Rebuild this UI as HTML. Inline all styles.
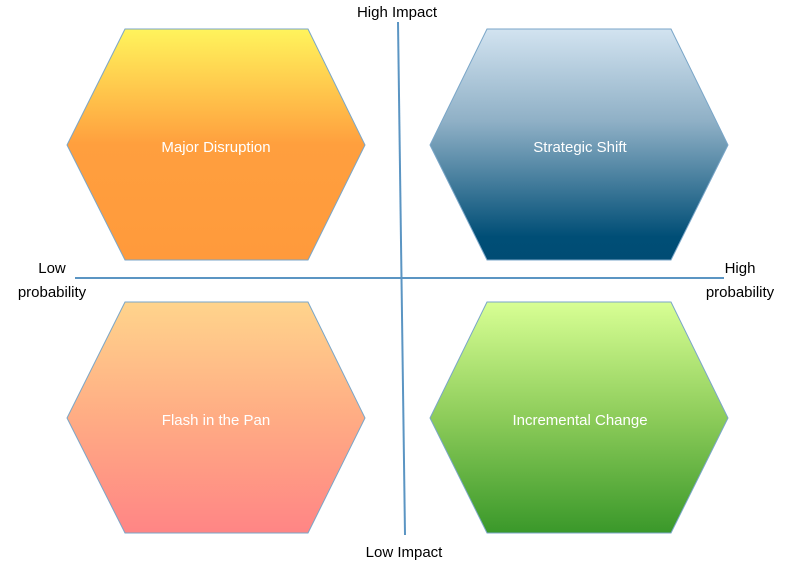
<!DOCTYPE html>
<html><head><style>
body{margin:0;background:#fff;width:787px;height:573px;overflow:hidden}
svg{display:block}
text{font-family:"Liberation Sans",sans-serif;font-size:15px}
</style></head><body>
<svg width="787" height="573" viewBox="0 0 787 573">
<defs>
<linearGradient id="g1" x1="0" y1="0" x2="0" y2="1"><stop offset="0" stop-color="#fff45c"/><stop offset="0.5" stop-color="#ff9f3e"/><stop offset="1" stop-color="#ff9a3c"/></linearGradient>
<linearGradient id="g2" x1="0" y1="0" x2="0" y2="1"><stop offset="0" stop-color="#d2e3f0"/><stop offset="0.4" stop-color="#8fb0c6"/><stop offset="0.9" stop-color="#004e76"/><stop offset="1" stop-color="#004c74"/></linearGradient>
<linearGradient id="g3" x1="0" y1="0" x2="0" y2="1"><stop offset="0" stop-color="#ffd48c"/><stop offset="0.5" stop-color="#ffac84"/><stop offset="1" stop-color="#ff8585"/></linearGradient>
<linearGradient id="g4" x1="0" y1="0" x2="0" y2="1"><stop offset="0" stop-color="#d8ff94"/><stop offset="0.5" stop-color="#8dcc5a"/><stop offset="1" stop-color="#3a982a"/></linearGradient>
</defs>
<g stroke="#7aa6c8" stroke-width="1">
<polygon points="125,29 308,29 365,145 308,260 125,260 67,145" fill="url(#g1)"/>
<polygon points="487,29 671,29 728,145 671,260 487,260 430,145" fill="url(#g2)"/>
<polygon points="125,302 308,302 365,418 308,533 125,533 67,418" fill="url(#g3)"/>
<polygon points="487,302 671,302 728,418 671,533 487,533 430,418" fill="url(#g4)"/>
</g>
<line x1="75" y1="278" x2="724" y2="278" stroke="#5b95c3" stroke-width="2"/>
<line x1="398" y1="22" x2="405" y2="535" stroke="#5b95c3" stroke-width="2"/>
<g fill="#fff" text-anchor="middle" style="font-size:16px">
<text x="216" y="152">Major Disruption</text>
<text x="580" y="152">Strategic Shift</text>
<text x="216" y="425">Flash in the Pan</text>
<text x="580" y="425">Incremental Change</text>
</g>
<g fill="#000" text-anchor="middle">
<text x="397" y="17">High Impact</text>
<text x="404" y="557">Low Impact</text>
<text x="52" y="273">Low</text>
<text x="52" y="297">probability</text>
<text x="740" y="273">High</text>
<text x="740" y="297">probability</text>
</g>
</svg>
</body></html>
